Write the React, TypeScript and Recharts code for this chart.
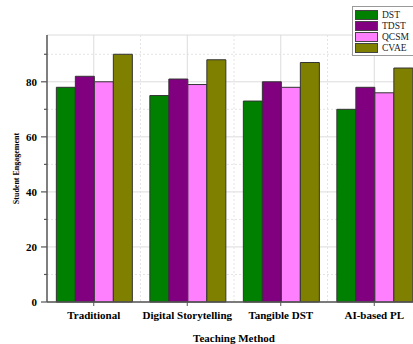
import React from "react";
import {
  BarChart,
  Bar,
  XAxis,
  YAxis,
  CartesianGrid,
  Label,
} from "recharts";

const methods = ["Traditional", "Digital Storytelling", "Tangible DST", "AI-based PL"];
const dst = [78, 75, 73, 70];
const tdst = [82, 81, 80, 78];
const qcsm = [80, 79, 78, 76];
const cvae = [90, 88, 87, 85];
const yTicks = [0, 10, 20, 30, 40, 50, 60, 70, 80, 90];

const series = [
  { key: "DST", color: "#008000" },
  { key: "TDST", color: "#800080" },
  { key: "QCSM", color: "#FF80FF" },
  { key: "CVAE", color: "#808000" },
];

const data = methods.map((m, i) => ({
  name: m,
  DST: dst[i],
  TDST: tdst[i],
  QCSM: qcsm[i],
  CVAE: cvae[i],
}));

const FONT = "'Liberation Serif', 'Times New Roman', serif";
const AXIS = "#555";

const YTick = (props: any) => {
  const { x, y, payload } = props;
  const major = payload.value % 20 === 0;
  return (
    <g>
      <line x1={major ? x + 4 : x + 7} x2={x + 10} y1={y} y2={y} stroke={AXIS} strokeWidth={1.2} />
      {major && (
        <text x={x} y={y} dy="0.35em" textAnchor="end" fontFamily={FONT} fontWeight="bold" fontSize={11} fill="#000">
          {payload.value}
        </text>
      )}
    </g>
  );
};

const GridH = (props: any) => {
  const { x1, x2, y1, y2, index } = props;
  const minor = index % 2 === 1;
  return (
    <line
      x1={x1}
      x2={x2}
      y1={y1}
      y2={y2}
      stroke={minor ? "#e4e4e4" : "#dcdcdc"}
      strokeDasharray={minor ? "2 2" : undefined}
      strokeWidth={1}
    />
  );
};

const GridV = (props: any) => {
  const { x1, x2, y1, y2, index } = props;
  const boundary = index % 2 === 1;
  return (
    <line
      x1={x1}
      x2={x2}
      y1={y1}
      y2={y2}
      stroke={boundary ? "#e4e4e4" : "#dcdcdc"}
      strokeDasharray={boundary ? "2 2" : undefined}
      strokeWidth={1}
    />
  );
};

const LegendBox = () => (
  <div
    style={{
      position: "absolute",
      left: 352,
      top: 6,
      border: "1px solid #999",
      background: "#fff",
      padding: "2px 0 2px 2px",
      width: 70,
      fontFamily: FONT,
      fontSize: 9.5,
      color: "#222",
    }}
  >
    {series.map((s) => (
      <div key={s.key} style={{ display: "flex", alignItems: "center", height: 11 }}>
        <div
          style={{
            width: 21,
            height: 8,
            background: s.color,
            border: "1px solid #444",
            marginRight: 4,
          }}
        />
        <span>{s.key}</span>
      </div>
    ))}
  </div>
);

export default function App() {
  return (
    <div
      style={{
        position: "fixed",
        left: 0,
        top: 0,
        width: 413,
        height: 344,
        overflow: "hidden",
        background: "#fff",
      }}
    >
      <BarChart
        width={425}
        height={344}
        data={data}
        margin={{ top: 35, right: 4, bottom: 0, left: 0 }}
        barCategoryGap="10%"
        barGap={0}
      >
        <CartesianGrid
          horizontal={GridH}
          vertical={GridV}
          verticalCoordinatesGenerator={({ offset }: any) => {
            const band = offset.width / methods.length;
            const xs: number[] = [];
            methods.forEach((_, i) => {
              xs.push(offset.left + band * (i + 0.5));
              if (i < methods.length - 1) xs.push(offset.left + band * (i + 1));
            });
            return xs;
          }}
        />
        <XAxis
          dataKey="name"
          height={42}
          tickSize={4}
          tickMargin={5}
          axisLine={{ stroke: AXIS, strokeWidth: 1.5 }}
          tickLine={{ stroke: AXIS }}
          tick={{ fill: "#000", fontSize: 11, fontWeight: "bold", fontFamily: FONT }}
          interval={0}
        >
          <Label
            value="Teaching Method"
            position="insideBottom"
            offset={2}
            style={{ fill: "#000", fontSize: 11, fontWeight: "bold", fontFamily: FONT }}
          />
        </XAxis>
        <YAxis
          width={47}
          domain={[0, 97]}
          ticks={yTicks}
          tickSize={6}
          tickMargin={4}
          tickLine={false}
          axisLine={{ stroke: AXIS, strokeWidth: 1.5 }}
          tick={<YTick />}
        >
          <Label
            value="Student Engagement"
            angle={-90}
            position="insideLeft"
            offset={16}
            style={{ fill: "#000", fontSize: 8, fontWeight: "bold", fontFamily: FONT, textAnchor: "middle" }}
          />
        </YAxis>
        {series.map((s) => (
          <Bar
            key={s.key}
            dataKey={s.key}
            fill={s.color}
            stroke="#333"
            strokeWidth={1}
            isAnimationActive={false}
          />
        ))}
      </BarChart>
      <LegendBox />
    </div>
  );
}
